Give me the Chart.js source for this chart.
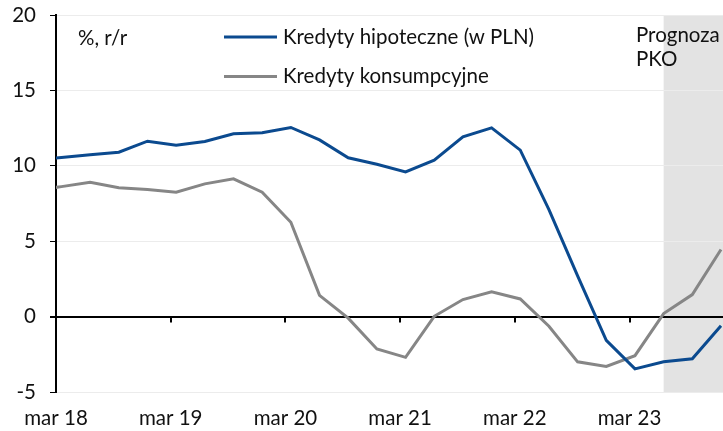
<!DOCTYPE html>
<html>
<head>
<meta charset="utf-8">
<script src="https://cdn.jsdelivr.net/npm/chart.js@4.4.1/dist/chart.umd.min.js"></script>
<style>
  html, body { margin: 0; padding: 0; background: #fff; }
  #wrap { width: 723px; height: 431px; }
</style>
</head>
<body>
<div id="wrap"><canvas id="line-chart" width="723" height="431"></canvas></div>
<script>
// quarters (first one sits just left of the axis and gets clipped)
var quarters = ['gru 17',
  'mar 18','cze 18','wrz 18','gru 18',
  'mar 19','cze 19','wrz 19','gru 19',
  'mar 20','cze 20','wrz 20','gru 20',
  'mar 21','cze 21','wrz 21','gru 21',
  'mar 22','cze 22','wrz 22','gru 22',
  'mar 23','cze 23','wrz 23','gru 23'];
// y/y growth, %
var hipoteczne = [10.4,10.55,10.73,10.9,11.63,11.37,11.61,12.12,12.19,12.54,11.72,10.53,
  10.1,9.6,10.37,11.92,12.52,11.04,7.1,2.7,-1.57,-3.47,-3.0,-2.8,-0.6];
var konsumpcyjne = [8.35,8.62,8.91,8.54,8.43,8.25,8.8,9.14,8.25,6.26,1.41,-0.1,
  -2.15,-2.7,0.02,1.13,1.64,1.17,-0.64,-3.0,-3.3,-2.59,0.2,1.46,4.45];
// axis labels
var tickLabels = ['mar 18','mar 19','mar 20','mar 21','mar 22','mar 23'];
var yTicks = [-5, 0, 5, 10, 15, 20];
var forecastFrom = 'cze 23';

var FONT = 'Lato';
var FSIZE = 20.5;
var BLUE = '#0b4a8f';
var GREY = '#868686';

// x position of quarter = its index, mar 18 = 0
function xOf(q) { return quarters.indexOf(q) - 1; }
var tickOffset = 0.19; // labels sit slightly left of the quarter points
var tickValues = tickLabels.map(function (l) { return xOf(l) - tickOffset; });

function pts(arr) {
  return arr.map(function (v, i) { return { x: xOf(quarters[i]), y: v }; });
}

var shade = {
  id: 'shade',
  beforeDraw: function (chart) {
    var c = chart.ctx, a = chart.chartArea, x = chart.scales.x;
    var x0 = x.getPixelForValue(xOf(forecastFrom));
    c.save();
    c.fillStyle = '#e3e3e3';
    c.fillRect(x0, a.top, a.right - x0, a.bottom - a.top);
    c.restore();
  }
};

var extras = {
  id: 'extras',
  afterDraw: function (chart) {
    var c = chart.ctx, x = chart.scales.x, y = chart.scales.y;
    var y0 = y.getPixelForValue(0);
    c.save();
    // tick marks on the zero line
    c.strokeStyle = '#000';
    c.lineWidth = 2;
    tickValues.forEach(function (v) {
      var px = Math.round(x.getPixelForValue(v));
      c.beginPath();
      c.moveTo(px, y0);
      c.lineTo(px, y0 + 6);
      c.stroke();
    });
    // legend
    c.font = FSIZE + 'px ' + FONT;
    c.textBaseline = 'middle';
    chart.data.datasets.forEach(function (ds, i) {
      var ly = 37 + i * 39.5;
      c.strokeStyle = ds.borderColor;
      c.lineWidth = 3;
      c.beginPath();
      c.moveTo(224, ly);
      c.lineTo(277, ly);
      c.stroke();
      c.fillStyle = '#111';
      c.fillText(ds.label, 283, ly);
    });
    c.fillText('%, r/r', 78, 38);
    c.fillText('Prognoza', 636, 35);
    c.fillText('PKO', 636, 59);
    c.restore();
  }
};

var ctx = document.getElementById('line-chart');
var myChart = new Chart(ctx, {
  type: 'line',
  data: {
    datasets: [
      { label: 'Kredyty hipoteczne (w PLN)', data: pts(hipoteczne), borderColor: BLUE, borderWidth: 3, pointRadius: 0, fill: false, tension: 0 },
      { label: 'Kredyty konsumpcyjne', data: pts(konsumpcyjne), borderColor: GREY, borderWidth: 3, pointRadius: 0, fill: false, tension: 0 }
    ]
  },
  options: {
    responsive: false,
    animation: false,
    layout: { padding: { top: 15, right: 0, left: 0, bottom: 0 } },
    plugins: { legend: { display: false }, tooltip: { enabled: false } },
    scales: {
      x: {
        type: 'linear',
        min: -tickOffset,
        max: xOf('gru 23') + 0.07,
        afterBuildTicks: function (s) { s.ticks = tickValues.map(function (v) { return { value: v }; }); },
        afterFit: function (s) { s.height = 39; s.paddingLeft = 0; s.paddingRight = 0; },
        grid: { display: false },
        border: { display: false },
        ticks: {
          autoSkip: false, maxRotation: 0, padding: 6,
          color: '#111', font: { family: FONT, size: FSIZE },
          callback: function (v, i) { return tickLabels[i]; }
        }
      },
      y: {
        min: -5, max: 20,
        afterBuildTicks: function (s) { s.ticks = yTicks.map(function (v) { return { value: v }; }); },
        afterFit: function (s) { s.width = 56; s.paddingTop = 0; s.paddingBottom = 0; },
        border: { color: '#000', width: 2 },
        grid: {
          color: function (c) { return c.tick && c.tick.value === 0 ? '#000' : '#ececec'; },
          lineWidth: function (c) { return c.tick && c.tick.value === 0 ? 2 : 1; },
          tickColor: '#000', tickLength: 6
        },
        ticks: { padding: 14, color: '#111', font: { family: FONT, size: FSIZE } }
      }
    }
  },
  plugins: [shade, extras]
});
</script>
</body>
</html>
